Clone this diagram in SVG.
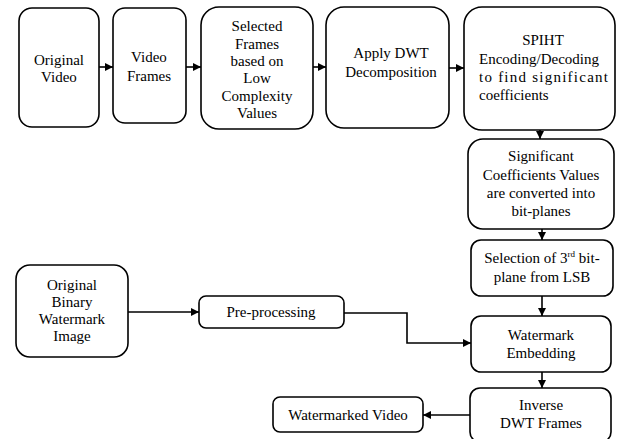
<svg xmlns="http://www.w3.org/2000/svg" width="619" height="439" viewBox="0 0 619 439">
<style>
.box{fill:#fff;stroke:#000;stroke-width:1.6}
.t{font-family:'Liberation Serif',serif;font-size:15px;fill:#000;text-anchor:middle}
.l{text-anchor:start}
.c{fill:none;stroke:#000;stroke-width:1.6}
</style>
<defs>
<marker id="ah" markerUnits="userSpaceOnUse" markerWidth="9" markerHeight="8" refX="8" refY="4" orient="auto">
<path d="M0,0 L8,4 L0,8 z" fill="#000"/>
</marker>
</defs>
<rect width="619" height="439" fill="#fff"/>
<g id="connectors">
<line class="c" x1="99" y1="67" x2="113" y2="67" marker-end="url(#ah)"/>
<line class="c" x1="186" y1="67" x2="201" y2="67" marker-end="url(#ah)"/>
<line class="c" x1="313" y1="67" x2="326" y2="67" marker-end="url(#ah)"/>
<line class="c" x1="449" y1="68" x2="464" y2="68" marker-end="url(#ah)"/>
<line class="c" x1="540" y1="130" x2="540" y2="139" marker-end="url(#ah)"/>
<line class="c" x1="542" y1="229" x2="542" y2="240" marker-end="url(#ah)"/>
<line class="c" x1="542" y1="296" x2="542" y2="316" marker-end="url(#ah)"/>
<line class="c" x1="542" y1="372" x2="542" y2="388" marker-end="url(#ah)"/>
<line class="c" x1="470" y1="415" x2="423" y2="415" marker-end="url(#ah)"/>
<line class="c" x1="128" y1="312" x2="199" y2="312" marker-end="url(#ah)"/>
<polyline class="c" points="344,313 407,313 407,343 471,343" marker-end="url(#ah)"/>
</g>
<g id="original-video">
<rect class="box" x="19" y="8" width="80" height="119" rx="13"/>
<text class="t" x="59" y="65">Original</text>
<text class="t" x="59" y="82">Video</text>
</g>
<g id="video-frames">
<rect class="box" x="113" y="8" width="73" height="115" rx="12"/>
<text class="t" x="149" y="62">Video</text>
<text class="t" x="149" y="81">Frames</text>
</g>
<g id="selected-frames">
<rect class="box" x="201" y="7" width="112" height="122" rx="18"/>
<text class="t" x="257" y="31">Selected</text>
<text class="t" x="257" y="49">Frames</text>
<text class="t" x="257" y="66">based on</text>
<text class="t" x="257" y="83">Low</text>
<text class="t" x="257" y="101">Complexity</text>
<text class="t" x="257" y="118">Values</text>
</g>
<g id="apply-dwt">
<rect class="box" x="326" y="7" width="123" height="121" rx="18"/>
<text class="t" x="391" y="58">Apply DWT</text>
<text class="t" x="391" y="77">Decomposition</text>
</g>
<g id="spiht">
<rect class="box" x="464" y="7" width="151" height="123" rx="18"/>
<text class="t" x="543" y="45">SPIHT</text>
<text class="t l" x="479" y="64">Encoding/Decoding</text>
<text class="t l" x="479" y="82" textLength="129" lengthAdjust="spacing">to find significant</text>
<text class="t l" x="479" y="100">coefficients</text>
</g>
<g id="significant">
<rect class="box" x="468" y="139" width="146" height="90" rx="15"/>
<text class="t" x="541" y="161">Significant</text>
<text class="t" x="541" y="180">Coefficients Values</text>
<text class="t" x="541" y="198">are converted into</text>
<text class="t" x="541" y="216">bit-planes</text>
</g>
<g id="selection">
<rect class="box" x="471" y="240" width="142" height="56" rx="10"/>
<text class="t" x="542" y="263">Selection of 3<tspan font-size="9" dy="-6">rd</tspan><tspan dy="6"> bit-</tspan></text>
<text class="t" x="542" y="282">plane from LSB</text>
</g>
<g id="original-binary">
<rect class="box" x="16" y="265" width="112" height="92" rx="14"/>
<text class="t" x="72" y="290">Original</text>
<text class="t" x="72" y="307">Binary</text>
<text class="t" x="72" y="324">Watermark</text>
<text class="t" x="72" y="341">Image</text>
</g>
<g id="pre-processing">
<rect class="box" x="199" y="296" width="145" height="32" rx="7"/>
<text class="t" x="271" y="317">Pre-processing</text>
</g>
<g id="watermark-embedding">
<rect class="box" x="471" y="316" width="140" height="56" rx="10"/>
<text class="t" x="541" y="340">Watermark</text>
<text class="t" x="541" y="358">Embedding</text>
</g>
<g id="inverse-dwt">
<rect class="box" x="470" y="388" width="141" height="54" rx="10"/>
<text class="t" x="541" y="410">Inverse</text>
<text class="t" x="541" y="428">DWT Frames</text>
</g>
<g id="watermarked-video">
<rect class="box" x="273" y="397" width="150" height="35" rx="7"/>
<text class="t" x="348" y="420">Watermarked Video</text>
</g>
</svg>
